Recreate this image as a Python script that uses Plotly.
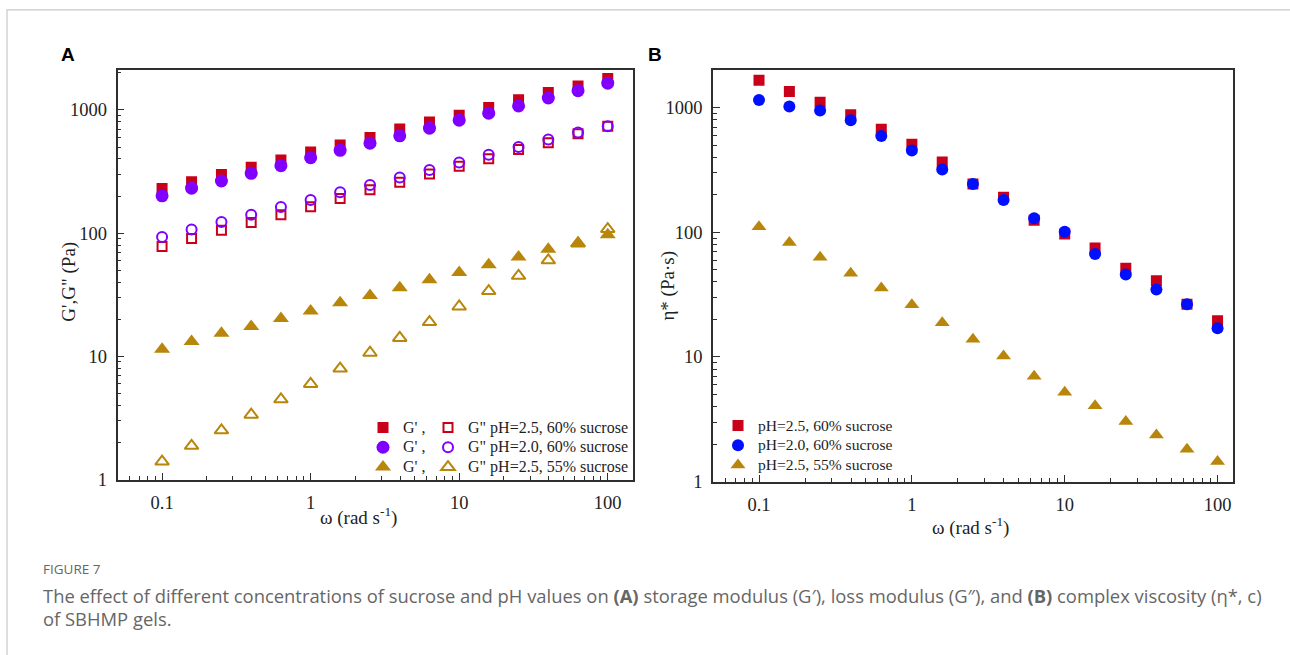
import plotly.graph_objects as go

# Angular frequency (rad/s), shared by every series
omega = [0.1, 0.158, 0.251, 0.398, 0.631, 1.0, 1.58, 2.51, 3.98, 6.31,
         10.0, 15.8, 25.1, 39.8, 63.1, 100.0]

# (A) storage modulus G' and loss modulus G'' (Pa)
g_storage_ph25_60 = [230, 262, 299, 342, 392, 455, 520, 598, 700, 800,
                     907, 1045, 1208, 1385, 1565, 1800]
g_loss_ph25_60 = [78, 90.7, 105.7, 122, 141, 164, 191, 225, 259, 302,
                  350, 402, 477, 543, 640, 738]
g_storage_ph20_60 = [201, 232, 265, 306, 353, 410, 470, 537, 617, 712,
                     825, 940, 1078, 1250, 1435, 1650]
g_loss_ph20_60 = [93, 107, 123, 141, 163, 186, 215, 246, 283, 326,
                  375, 433, 500, 575, 657, 738]
g_storage_ph25_55 = [11.4, 13.2, 15.4, 17.5, 20.3, 23.4, 27.2, 31.2, 36.0, 41.8,
                     47.9, 55.3, 64.0, 73.9, 83.2, 97.0]
g_loss_ph25_55 = [1.40, 1.88, 2.51, 3.36, 4.48, 5.97, 7.96, 10.7, 14.1, 19.0,
                  25.4, 33.9, 45.1, 60.2, 82.5, 108.0]

# (B) complex viscosity eta* (Pa·s)
eta_ph25_60 = [1663, 1354, 1109, 881, 674, 510, 368, 244, 191, 125,
               97, 75, 51.5, 40.9, 26.5, 19.5]
eta_ph20_60 = [1157, 1024, 952, 794, 594, 455, 320, 244, 182, 130,
               101, 67, 46, 34.8, 26.5, 17.0]
eta_ph25_55 = [111, 83, 63, 47, 35.8, 26.2, 18.8, 13.9, 10.2, 7.0,
               5.2, 4.05, 3.03, 2.36, 1.82, 1.45]

sample_labels = ["pH=2.5, 60% sucrose", "pH=2.0, 60% sucrose", "pH=2.5, 55% sucrose"]
x_ticks = [0.1, 1, 10, 100]
x_ticktext = ["0.1", "1", "10", "100"]
y_ticks = [1, 10, 100, 1000]
y_ticktext = ["1", "10", "100", "1000"]

RED = "#C8001A"
PURPLE = "#7F00FF"
BLUE = "#0010FF"
GOLD = "#B8860B"
AXIS = "#2E2E2E"
SERIF = "Liberation Serif, Times New Roman, serif"

W, H = 1290, 655


def px(x):
    return x / W


def py(y):
    return 1 - y / H


def legend_text(s, size):
    # larger glyphs than the legend's row pitch so rows stay compact
    return '<span style="font-size:%spx">%s</span>' % (size, s)


fig = go.Figure()

# ---- panel A: filled = G', open = G''
storage = [(g_storage_ph25_60, "square", RED, 11),
           (g_storage_ph20_60, "circle", PURPLE, 13),
           (g_storage_ph25_55, "triangle-up", GOLD, 14)]
loss = [(g_loss_ph25_60, "square-open", RED, 9),
        (g_loss_ph20_60, "circle-open", PURPLE, 10),
        (g_loss_ph25_55, "triangle-up-open", GOLD, 12)]

for (vals, sym, col, sz) in storage:
    fig.add_trace(go.Scatter(
        x=omega, y=vals, mode="markers", name=legend_text("G' ,", 16),
        marker=dict(symbol=sym, color=col, size=sz, line=dict(width=0)),
        xaxis="x", yaxis="y", legend="legend"))

for (vals, sym, col, sz), lab in zip(loss, sample_labels):
    fig.add_trace(go.Scatter(
        x=omega, y=vals, mode="markers", name=legend_text('G" ' + lab, 16),
        marker=dict(symbol=sym, color=col, size=sz, line=dict(width=2, color=col)),
        xaxis="x", yaxis="y", legend="legend2"))

# ---- panel B: complex viscosity
visc = [(eta_ph25_60, "square", RED, 11),
        (eta_ph20_60, "circle", BLUE, 12),
        (eta_ph25_55, "triangle-up", GOLD, 13)]
for (vals, sym, col, sz), lab in zip(visc, sample_labels):
    fig.add_trace(go.Scatter(
        x=omega, y=vals, mode="markers", name=legend_text(lab, 15.6),
        marker=dict(symbol=sym, color=col, size=sz, line=dict(width=0)),
        xaxis="x2", yaxis="y2", legend="legend3"))

minor_x = [m * 10 ** k for k in range(-2, 3) for m in range(2, 10)]
minor_y = [m * 10 ** k for k in range(0, 4) for m in range(2, 10)]


def log_axis(domain, rng, tickvals, ticktext, minor_vals, anchor):
    return dict(
        type="log", domain=domain, range=rng, anchor=anchor,
        showline=True, linecolor=AXIS, linewidth=1.6, mirror=True,
        ticks="inside", ticklen=7, tickwidth=1.3, tickcolor=AXIS,
        tickmode="array", tickvals=tickvals, ticktext=ticktext,
        minor=dict(ticks="inside", ticklen=4, tickwidth=1.1, tickcolor=AXIS,
                   tickmode="array", tickvals=minor_vals, showgrid=False),
        showgrid=False, zeroline=False,
        tickfont=dict(family=SERIF, size=18.5, color="#222222"),
        ticklabelstandoff=5,
    )


legend_style = dict(xanchor="left", yanchor="top", bgcolor="rgba(0,0,0,0)",
                    borderwidth=0, font=dict(family=SERIF, size=12.9, color="#1E1E1E"))

fig.update_layout(
    width=W, height=H,
    margin=dict(l=0, r=0, t=0, b=0),
    paper_bgcolor="white", plot_bgcolor="white",
    xaxis=log_axis([px(117.5), px(633)], [-1.30, 2.17], x_ticks, x_ticktext, minor_x, "y"),
    yaxis=log_axis([py(487), py(71)], [0, 3.325], y_ticks, y_ticktext, minor_y, "x"),
    xaxis2=log_axis([px(713), px(1233)], [-1.301, 2.101], x_ticks, x_ticktext, minor_x, "y2"),
    yaxis2=log_axis([py(489), py(71)], [0, 3.304], y_ticks, y_ticktext, minor_y, "x2"),
    legend=dict(x=px(363), y=py(419), **legend_style),
    legend2=dict(x=px(428), y=py(419), **legend_style),
    legend3=dict(x=px(718), y=py(417), **legend_style),
    showlegend=True,
)

# page frame (top and left rules)
fig.add_shape(type="rect", xref="paper", yref="paper",
              x0=px(7), x1=1.2, y0=-0.2, y1=py(10),
              line=dict(color="#C8C8C8", width=1.2), layer="below")

ann = []
# panel letters
ann.append(dict(x=px(68), y=py(55), text="<b>A</b>",
                font=dict(family="Liberation Sans, Arial", size=19, color="#000")))
ann.append(dict(x=px(655), y=py(55), text="<b>B</b>",
                font=dict(family="Liberation Sans, Arial", size=19, color="#000")))
# axis titles
title_font = dict(family=SERIF, size=19, color="#222")
ann.append(dict(x=px(69), y=py(286), text="G',G\" (Pa)", textangle=-90, font=title_font))
ann.append(dict(x=px(358), y=py(525), text="ω (rad s<sup>-1</sup>)", font=title_font))
ann.append(dict(x=px(668), y=py(290), text="η* (Pa·s)", textangle=-90, font=title_font))
ann.append(dict(x=px(970), y=py(535), text="ω (rad s<sup>-1</sup>)", font=title_font))
for a in ann:
    a.update(xref="paper", yref="paper", showarrow=False, xanchor="center", yanchor="middle")

caption_font = dict(family="Open Sans, Lato, sans-serif", size=18.4, color="#666666")
caps = [
    dict(x=px(41), y=py(578), text="FIGURE 7",
         font=dict(family="Open Sans, Lato, sans-serif", size=13.5, color="#666666")),
    dict(x=px(41), y=py(605),
         text="The effect of different concentrations of sucrose and pH values on <b>(A)</b> storage modulus (G′), "
              "loss modulus (G″), and <b>(B)</b> complex viscosity (η*, c)",
         font=caption_font),
    dict(x=px(41), y=py(628), text="of SBHMP gels.", font=caption_font),
]
for c in caps:
    c.update(xref="paper", yref="paper", showarrow=False, xanchor="left", yanchor="middle")

fig.update_layout(annotations=ann + caps)

fig.write_html("out.html")
